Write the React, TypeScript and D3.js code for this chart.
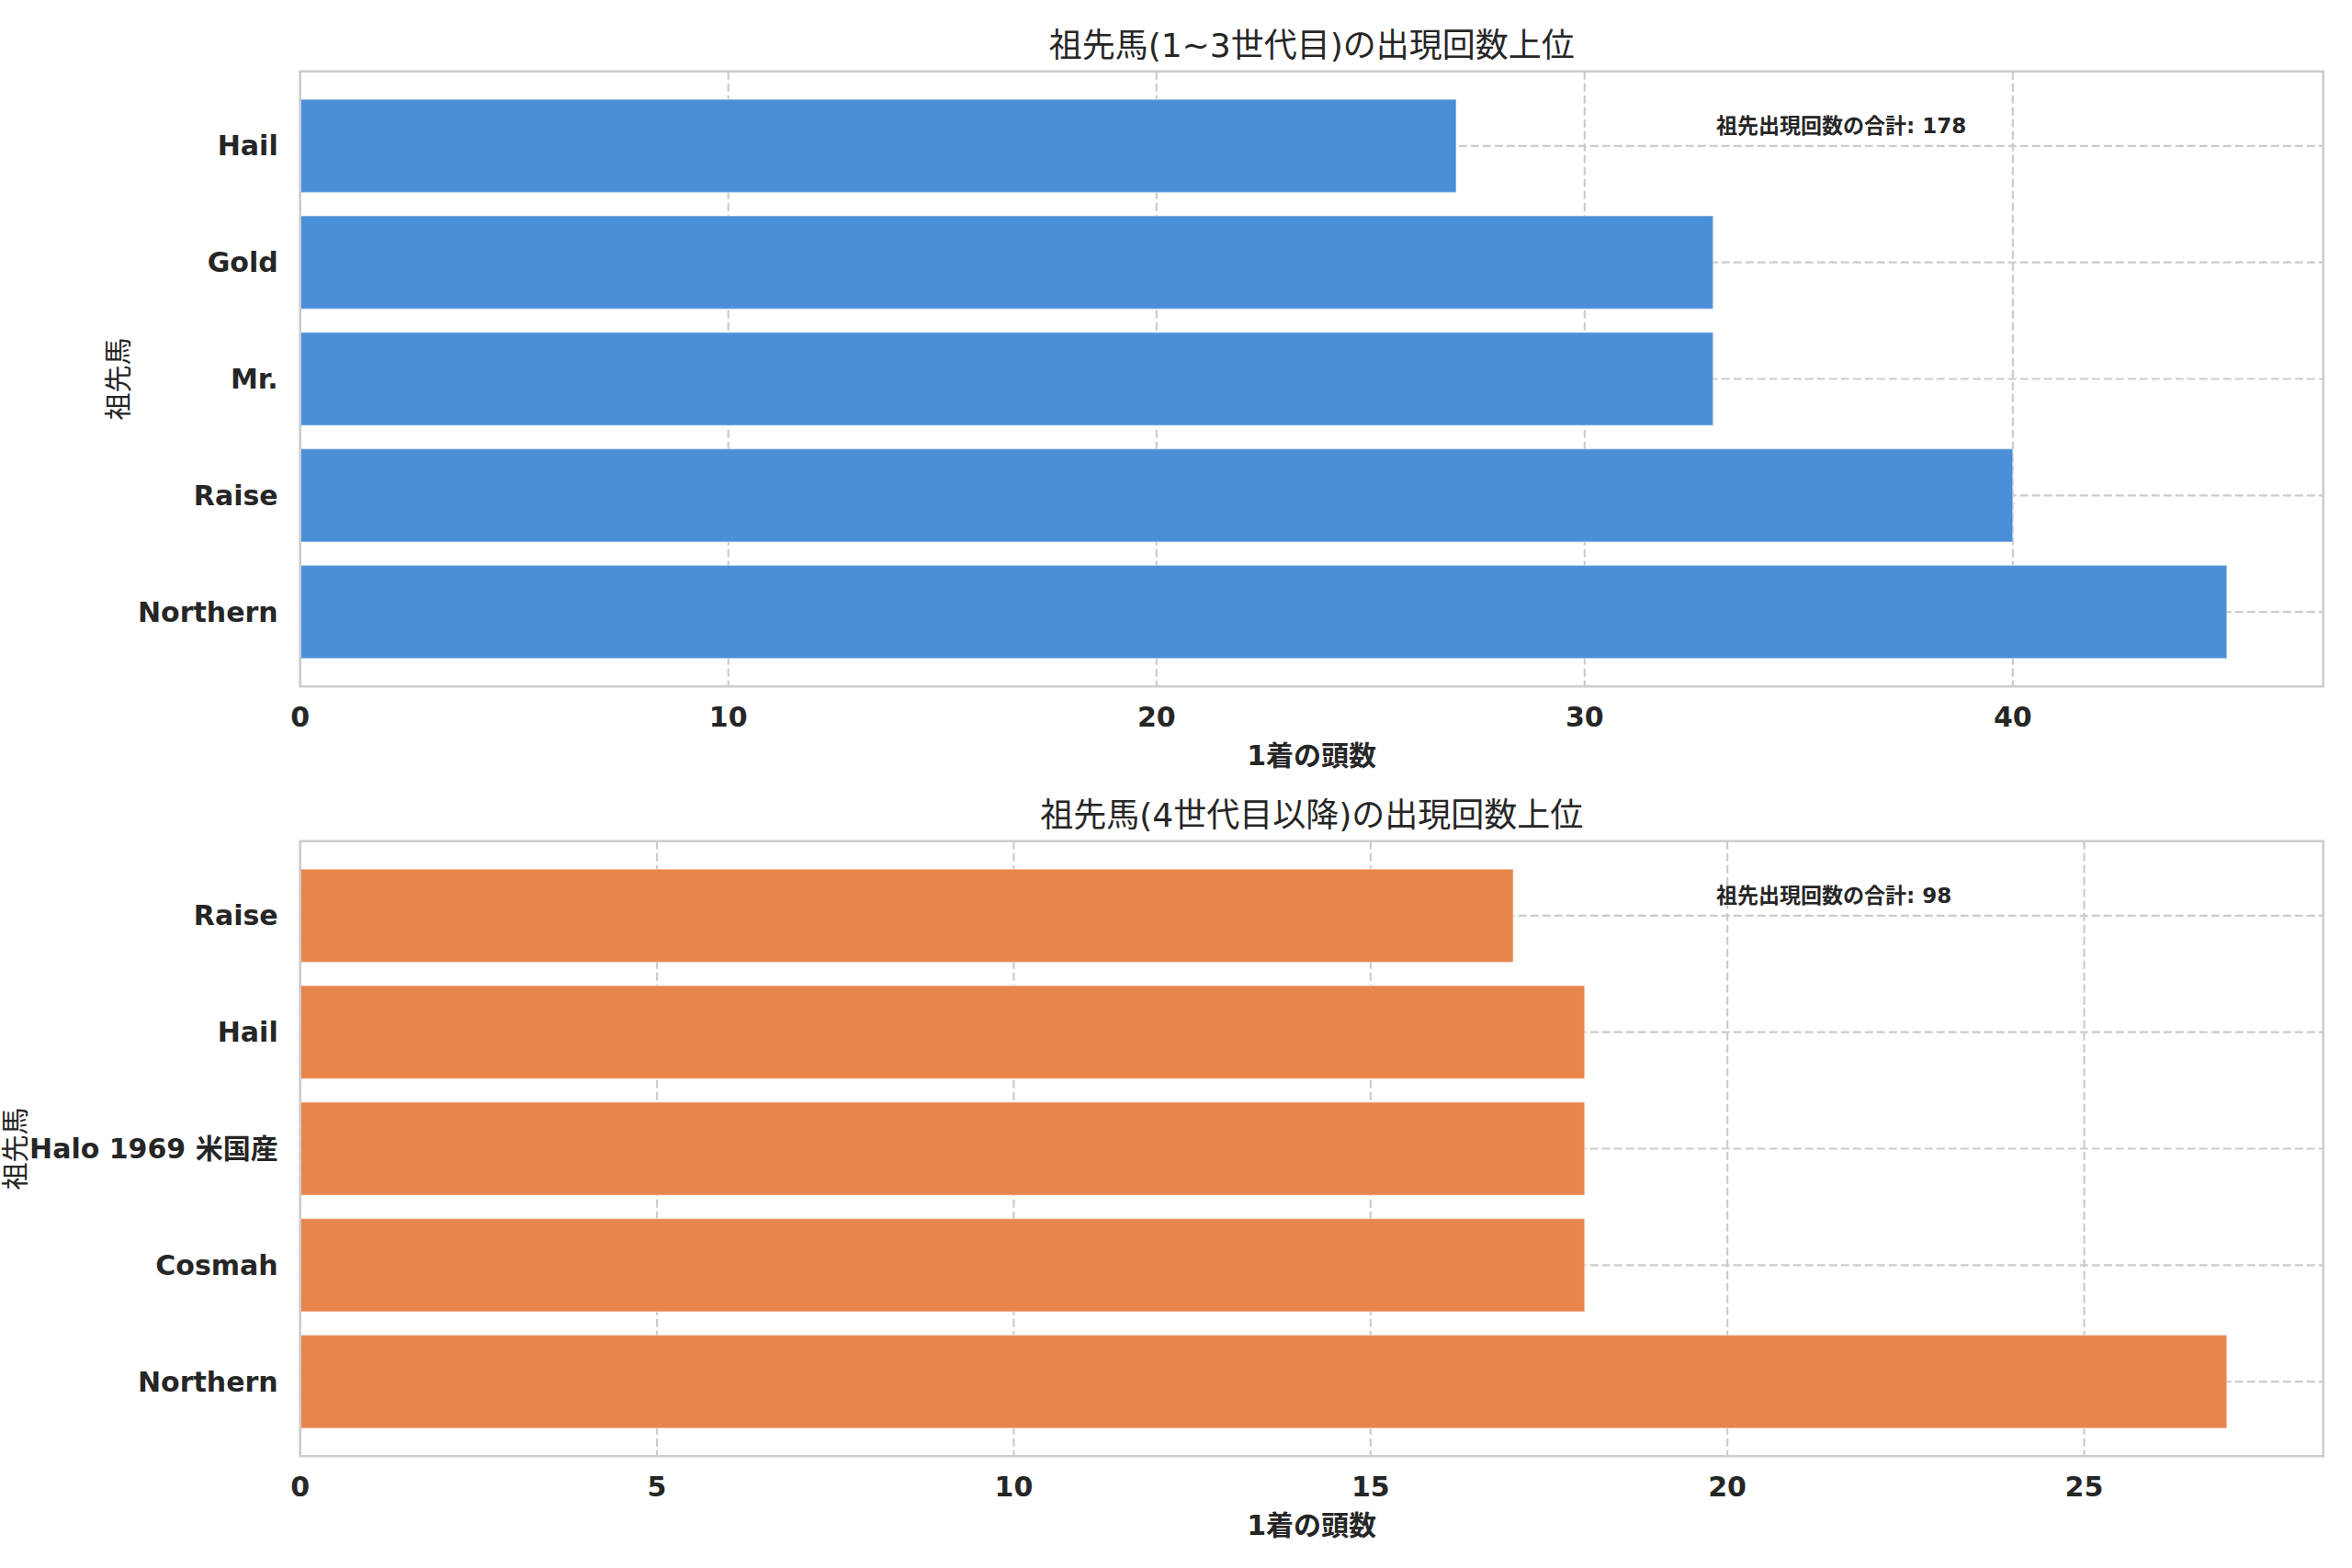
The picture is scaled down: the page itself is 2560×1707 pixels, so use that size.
import * as d3 from "d3";

const topNames = ["Northern", "Raise", "Mr.", "Gold", "Hail"];
const topCounts = [45, 40, 33, 33, 27];
const topTicks = [0, 10, 20, 30, 40];

const bottomNames = ["Northern", "Cosmah", "Halo 1969 米国産", "Hail", "Raise"];
const bottomCounts = [27, 18, 18, 18, 17];
const bottomTicks = [0, 5, 10, 15, 20, 25];

const topTitle = "祖先馬(1~3世代目)の出現回数上位";
const bottomTitle = "祖先馬(4世代目以降)の出現回数上位";
const xLabel = "1着の頭数";
const yLabel = "祖先馬";
const totalLabel = "祖先出現回数の合計";

const W = 2560;
const H = 1707;
const FONT = "'DejaVu Sans', 'Noto Sans CJK JP', sans-serif";
const TEXT = "#262626";
const GRID = "#cccccc";

const LEFT = 326.7;
const RIGHT = 2528.7;
const PH = 669.6;

type PanelProps = {
    top: number;
    names: string[];
    counts: number[];
    ticks: number[];
    color: string;
    title: string;
    yLabelX: number;
};

const Panel = ({ top, names, counts, ticks, color, title, yLabelX }: PanelProps) => {
    const x = d3.scaleLinear().domain([0, d3.max(counts)! * 1.05]).range([LEFT, RIGHT]);
    const y = d3.scaleLinear().domain([-0.64, names.length - 1 + 0.64]).range([top + PH, top]);
    const barH = y(0) - y(0.8);
    const total = d3.sum(counts);

    return (
        <g fontFamily={FONT} fill={TEXT}>
            {/* grid */}
            {ticks.map((t) => (
                <line key={"gx" + t} x1={x(t)} x2={x(t)} y1={top} y2={top + PH}
                    stroke={GRID} strokeWidth={2.2} strokeDasharray="9,4" />
            ))}
            {names.map((n, i) => (
                <line key={"gy" + n} x1={LEFT} x2={RIGHT} y1={y(i)} y2={y(i)}
                    stroke={GRID} strokeWidth={2.2} strokeDasharray="9,4" />
            ))}
            {/* bars */}
            {counts.map((c, i) => (
                <rect key={"b" + i} x={x(0)} y={y(i) - barH / 2} width={x(c) - x(0)} height={barH}
                    fill={color} stroke="#ffffff" strokeOpacity={0.4} strokeWidth={1.5} />
            ))}
            {/* frame */}
            <rect x={LEFT} y={top} width={RIGHT - LEFT} height={PH} fill="none" stroke={GRID} strokeWidth={2.5} />
            {/* x ticks */}
            {ticks.map((t) => (
                <text key={"tx" + t} x={x(t)} y={top + PH + 33} textAnchor="middle" dominantBaseline="central"
                    fontSize={30} fontWeight="bold">{t}</text>
            ))}
            {/* y ticks */}
            {names.map((n, i) => (
                <text key={"ty" + n} x={302.7} y={y(i)} textAnchor="end" dominantBaseline="central"
                    fontSize={30} fontWeight="bold">{n}</text>
            ))}
            <text x={(LEFT + RIGHT) / 2} y={top + PH + 75} textAnchor="middle" dominantBaseline="central"
                fontSize={30} fontWeight="bold">{xLabel}</text>
            <text transform={`translate(${yLabelX},${top + PH / 2}) rotate(-90)`} textAnchor="middle"
                dominantBaseline="central" fontSize={30}>{yLabel}</text>
            <text x={(LEFT + RIGHT) / 2} y={top - 28} textAnchor="middle" dominantBaseline="central"
                fontSize={36}>{title}</text>
            <text x={LEFT + 0.7 * (RIGHT - LEFT)} y={top + PH * (1 - 0.912)} dominantBaseline="central"
                fontSize={23} fontWeight="bold">{`${totalLabel}: ${total}`}</text>
        </g>
    );
};

export default function App() {
    return (
        <svg width={W} height={H} style={{ position: "absolute", left: 0, top: 0, background: "#fff" }}>
            <rect width={W} height={H} fill="#ffffff" />
            <Panel top={77.7} names={topNames} counts={topCounts} ticks={topTicks}
                color="#4a8fd8" title={topTitle} yLabelX={128} />
            <Panel top={915.7} names={bottomNames} counts={bottomCounts} ticks={bottomTicks}
                color="#e8854c" title={bottomTitle} yLabelX={16} />
        </svg>
    );
}
